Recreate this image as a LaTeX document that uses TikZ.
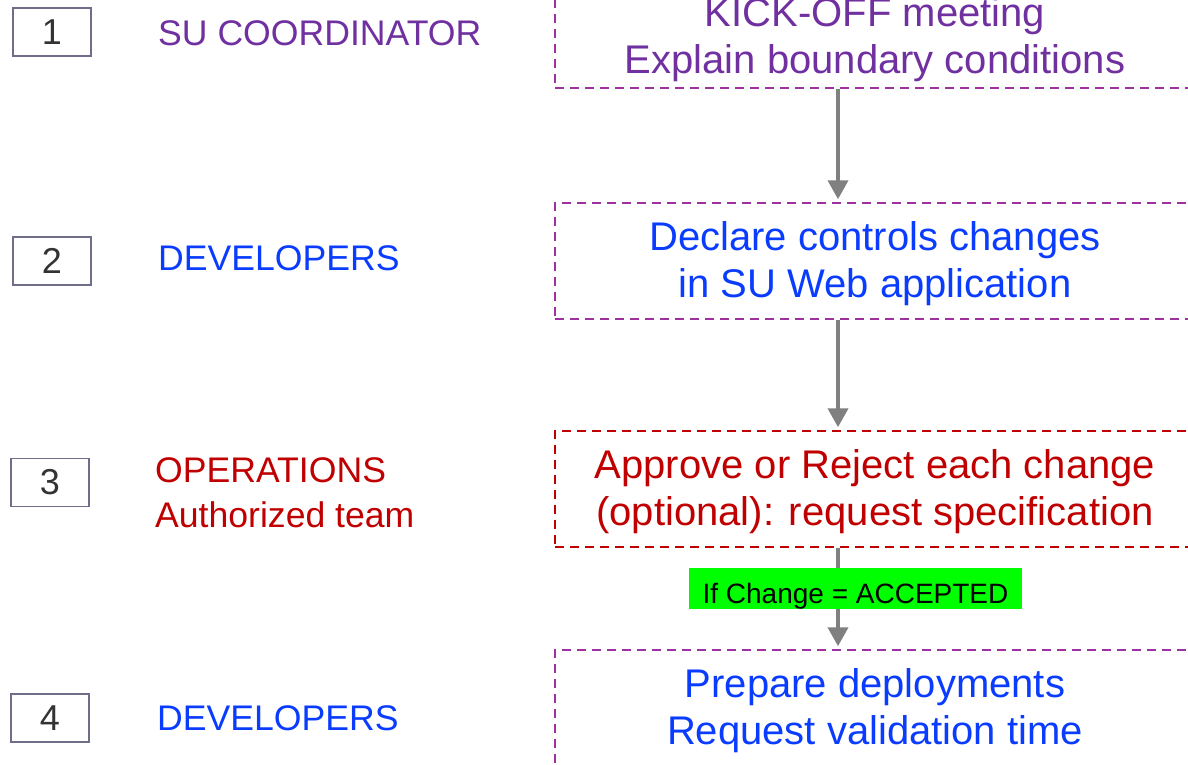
\documentclass[tikz,border=0pt]{standalone}
\usepackage{fontspec}
\setmainfont{Liberation Sans}
\usetikzlibrary{arrows.meta}

\definecolor{supurple}{HTML}{7030A0}
\definecolor{devblue}{HTML}{0A3CFF}
\definecolor{opsred}{HTML}{C00000}
\definecolor{framepurple}{HTML}{A0309F}
\definecolor{numgray}{HTML}{6E6E8A}
\definecolor{flowgray}{HTML}{808080}
\definecolor{accgreen}{HTML}{00FF00}

\tikzset{
  numbox/.style={draw=numgray, line width=1.5pt, minimum width=78pt, minimum height=48pt,
    inner sep=0pt, text=black!80, font=\fontsize{36}{40}\selectfont},
  role/.style={anchor=west, inner sep=0pt, align=left, font=\fontsize{35.6}{45}\selectfont},
  task/.style={draw=framepurple, dash pattern=on 9pt off 6pt, line width=1.5pt,
    minimum width=640pt, minimum height=116pt, inner sep=0pt, align=center,
    font=\fontsize{40}{47}\selectfont},
  flow/.style={draw=flowgray, line width=4pt, shorten >=3pt,
    -{Triangle[width=20pt,length=19pt]}}
}

\begin{document}
\begin{tikzpicture}[x=1pt,y=-1pt]
\useasboundingbox (0,0) rectangle (1188,765);
\clip (0,0) rectangle (1188,765);

\coordinate (ax) at (838,0);

\node[numbox] (n1) at (52,32) {1};
\node[numbox] (n2) at (52,261) {2};
\node[numbox] (n3) at (50,482.5) {3};
\node[numbox] (n4) at (50,718) {4};

\node[role, text=supurple] (r1) at (158,33) {SU COORDINATOR};
\node[role, text=devblue] (r2) at (158,258) {DEVELOPERS};
\node[role, text=opsred] (r3) at (155,492.5) {OPERATIONS\\Authorized team};
\node[role, text=devblue] (r4) at (157,718) {DEVELOPERS};

\node[task, text=supurple, minimum height=102pt] (kick) at (875,37)
  {\rule{0pt}{35pt}KICK-OFF meeting\\Explain boundary conditions};
\node[task, text=devblue] (declare) at (875,261)
  {\rule{0pt}{35pt}Declare controls changes\\in SU Web application};
\node[task, draw=opsred, text=opsred] (approve) at (875,489)
  {\rule{0pt}{35pt}Approve or Reject each change\\(optional): request specification};
\node[task, text=devblue] (prepare) at (875,708)
  {\rule{0pt}{35pt}Prepare deployments\\Request validation time};

\draw[flow] (kick.south -| ax) -- (declare.north -| ax);
\draw[flow] (declare.south -| ax) -- (approve.north -| ax);
\draw[flow] (approve.south -| ax) -- (prepare.north -| ax);

\node[fill=accgreen, minimum width=333pt, minimum height=41pt, inner sep=0pt,
  text height=29pt, text depth=0pt,
  font=\fontsize{28}{30}\selectfont] (accepted) at (855.5,588.5) {If Change = ACCEPTED};

\end{tikzpicture}
\end{document}
